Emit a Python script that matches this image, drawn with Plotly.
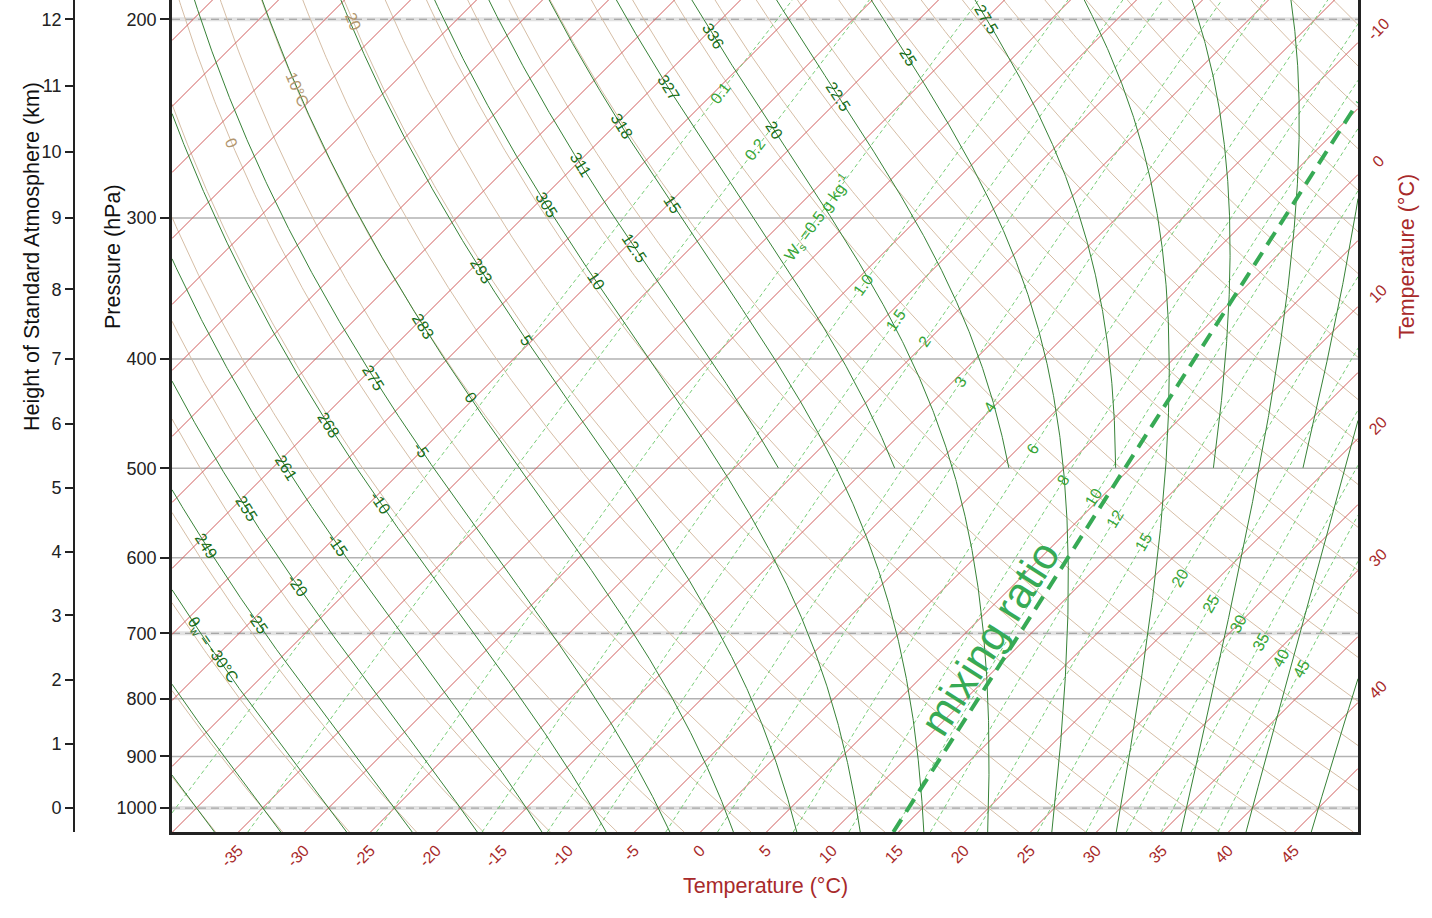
import numpy as np
import plotly.graph_objects as go

# ---------------- data ----------------
isobars_hpa = [200, 300, 400, 500, 600, 700, 800, 900, 1000]
dashed_isobars_hpa = [200, 700, 1000]
isotherms_c = list(range(-105, 55, 5))
dry_adiabats_c = list(range(-45, 150, 5))          # potential temperature, deg C
moist_adiabats_c = list(range(-40, 55, 5))          # wet-bulb potential temp, full depth
moist_upper_c = [12.5, 17.5, 22.5, 27.5, 32.5, 37.5, 42.5, 47.5]  # drawn above 500 hPa only
mixing_ratios_gkg = [0.1, 0.2, 0.5, 1.0, 1.5, 2, 3, 4, 6, 8, 10, 12, 15, 20, 25, 30, 35, 40, 45]
highlight_w_gkg = 10
height_km = list(range(0, 13))
height_p_hpa = [1000, 877.5, 770, 675, 592.5, 520, 456.4, 400, 347, 300, 262, 229, 200]
bottom_ticks_c = list(range(-35, 50, 5))
right_ticks_c = [-10, 0, 10, 20, 30, 40]

# label texts and the pressure level where each label sits
thetaw_label_vals = [-30, -25, -20, -15, -10, -5, 0, 5, 10, 12.5, 15, 20, 22.5, 25, 27.5]
thetaw_label_txt = ["θ<sub>w</sub> = -30°C", "-25", "-20", "-15", "-10", "-5", "0", "5", "10",
                    "12.5", "15", "20", "22.5", "25", "27.5"]
thetaw_label_p = [725, 685, 635, 585, 536, 482, 433, 385, 341, 319, 292, 251, 234, 216, 200]
thetae_label_vals = [-25, -20, -15, -10, -5, 0, 5, 10, 12.5, 15, 17.5, 20]
thetae_label_txt = ["249", "255", "261", "268", "275", "283", "293", "305", "311", "318", "327", "336"]
thetae_label_p = [586, 543, 499, 458, 416, 374, 334, 292, 269, 249, 230, 207]
w_label_txt = ["0.1", "0.2", "W<sub>s</sub> =0.5 g kg<sup>-1</sup>", "1.0", "1.5", "2", "3", "4", "6", "8",
               "10", "12", "15", "20", "25", "30", "35", "40", "45"]
w_label_p = [232.5, 261, 300, 344, 370, 386, 419, 442, 480, 512, 531, 554, 581, 625, 659, 686, 712, 736, 752]
dry_label_vals = [0, 10, 20]
dry_label_txt = ["0", "10°C", "20"]
dry_label_p = [257.5, 231, 201]

# ---------------- geometry ----------------
W, H = 1432, 918
ML, MR, MT, MB = 60, 74, 0, 86
PLOT_L, PLOT_R = 172, 1358
P_BOT, P_TOP = 1050.0, 192.3
plot_h = H - MT - MB
px_per_c = 13.2
X_MIN = -40.0 - 0.5 / px_per_c           # half-pixel offset keeps 45-degree lines off the pixel grid
X_MAX = X_MIN + (PLOT_R - PLOT_L) / px_per_c
px_per_ln = plot_h / np.log(P_BOT / P_TOP)
SKEW = px_per_ln / px_per_c      # 45-degree isotherms
LN_LO, LN_HI = np.log(P_TOP), np.log(P_BOT)

def skew_x(t_c, p):
    return t_c + SKEW * np.log(P_BOT / np.asarray(p, dtype=float))

# thermodynamics
Rd, CP, LV, EPS = 287.04749, 1005.7, 2.501e6, 0.622

def es_water(tc):
    return 6.112 * np.exp(17.67 * tc / (tc + 243.5))

def dewpoint_water(e):
    a = np.log(e / 6.112)
    return 243.5 * a / (17.67 - a)

def dewpoint_ice(e):
    a = np.log(e / 6.112)
    return 272.62 * a / (22.46 - a)

def moist_rhs(p, tk):
    es = es_water(tk - 273.15)
    rs = EPS * es / (p - es)
    return (Rd * tk + LV * rs) / (CP + LV * LV * rs * EPS / (Rd * tk * tk)) / p

def integrate(t0k, plev):
    out = [t0k]
    t = t0k
    for p0, p1 in zip(plev[:-1], plev[1:]):
        h = p1 - p0
        k1 = moist_rhs(p0, t)
        k2 = moist_rhs(p0 + h / 2, t + h / 2 * k1)
        k3 = moist_rhs(p0 + h / 2, t + h / 2 * k2)
        k4 = moist_rhs(p1, t + h * k3)
        t = t + h / 6 * (k1 + 2 * k2 + 2 * k3 + k4)
        out.append(t)
    return np.array(out)

P_UP = np.geomspace(1000, 180, 500)
P_DN = np.geomspace(1000, 1060, 30)

def moist_curve(tw):
    tup = integrate(tw + 273.15, P_UP)
    tdn = integrate(tw + 273.15, P_DN)
    p = np.concatenate([P_DN[::-1], P_UP[1:]])
    t = np.concatenate([tdn[::-1], tup[1:]]) - 273.15
    return p, t

PGRID = np.geomspace(1060, 180, 300)

def dry_curve(theta_c):
    t = (theta_c + 273.15) * (PGRID / 1000.0) ** (Rd / CP) - 273.15
    return PGRID, t

def mix_curve(w_gkg):
    w = w_gkg / 1000.0
    e = w * PGRID / (EPS + w)
    return PGRID, dewpoint_water(e)

def clip_seg(x0, y0, x1, y1):
    dx, dy = x1 - x0, y1 - y0
    t0, t1 = 0.0, 1.0
    for pk, qk in ((-dx, x0 - X_MIN), (dx, X_MAX - x0), (-dy, y0 - LN_LO), (dy, LN_HI - y0)):
        if pk == 0:
            if qk < 0:
                return None
        else:
            r = qk / pk
            if pk < 0:
                t0 = max(t0, r)
            else:
                t1 = min(t1, r)
    if t0 > t1:
        return None
    return (x0 + t0 * dx, y0 + t0 * dy), (x0 + t1 * dx, y0 + t1 * dy)

def clipped_xy(p, t):
    X = skew_x(t, p)
    L = np.log(np.asarray(p, dtype=float))
    xs, ys = [], []
    last = None
    for i in range(len(X) - 1):
        c = clip_seg(float(X[i]), float(L[i]), float(X[i + 1]), float(L[i + 1]))
        if c is None:
            continue
        a, b = c
        if last is None or abs(a[0] - last[0]) > 1e-9 or abs(a[1] - last[1]) > 1e-9:
            if xs:
                xs.append(None); ys.append(None)
            xs.append(a[0]); ys.append(float(np.exp(a[1])))
        xs.append(b[0]); ys.append(float(np.exp(b[1])))
        last = b
    return xs, ys

def on_curve(p_arr, t_arr, p_lab):
    lnp = np.log(p_arr)
    order = np.argsort(lnp)
    X = skew_x(t_arr, p_arr)
    xs = lambda pp: np.interp(np.log(pp), lnp[order], X[order])
    x0 = xs(p_lab)
    x1, x2 = xs(p_lab / 1.03), xs(p_lab * 1.03)
    dx = (x2 - x1) * px_per_c
    dy = (np.log(p_lab * 1.03) - np.log(p_lab / 1.03)) * px_per_ln  # downward
    if dx < 0:
        dx, dy = -dx, -dy
    ang = float(np.degrees(np.arctan2(dy, dx)))
    return float(x0), ang

FONT = "Liberation Sans, Arial, Helvetica, sans-serif"
RED_TXT = "#a82a2a"
fig = go.Figure()

def add_family(curves, color, width, dash=None):
    X, Y = [], []
    for p, t in curves:
        xs, ys = clipped_xy(p, t)
        if xs:
            if X:
                X.append(None); Y.append(None)
            X += xs; Y += ys
    fig.add_trace(go.Scatter(x=X, y=Y, mode="lines", line=dict(color=color, width=width, dash=dash),
                             hoverinfo="skip", showlegend=False, connectgaps=False))

# isobars
for pb in isobars_hpa:
    tt = np.array([X_MIN, X_MAX]) - SKEW * np.log(P_BOT / pb)
    pp = np.array([pb, pb], dtype=float)
    if pb in dashed_isobars_hpa:
        add_family([(pp, tt)], "rgba(190,190,190,0.45)", 4)
        add_family([(pp, tt)], "rgb(150,150,150)", 1, "8px,5px")
    else:
        add_family([(pp, tt)], "rgb(178,178,178)", 1.5)

add_family([dry_curve(th) for th in dry_adiabats_c], "rgb(214,190,166)", 1)
add_family([(np.array([1060.0, 180.0]), np.array([tc, tc], dtype=float)) for tc in isotherms_c],
           "rgb(208,92,92)", 1)
add_family([mix_curve(w) for w in mixing_ratios_gkg], "rgb(120,205,120)", 1, "4px,3px")

moist_cache = {tw: moist_curve(tw) for tw in moist_adiabats_c + moist_upper_c}
mc = [moist_cache[tw] for tw in moist_adiabats_c]
for tw in moist_upper_c:
    p, t = moist_cache[tw]
    m = p <= 500
    mc.append((p[m], t[m]))
add_family(mc, "rgb(55,130,55)", 1)

# highlighted mixing ratio line
wv = highlight_w_gkg / 1000.0
x_a = float(skew_x(dewpoint_water(wv * P_BOT / (EPS + wv)), P_BOT))
x_b = float(skew_x(dewpoint_ice(wv * 200.0 / (EPS + wv)), 200.0))
pp2 = np.array([P_BOT, 200.0])
add_family([(pp2, np.array([x_a, x_b]) - SKEW * np.log(P_BOT / pp2))], "rgb(55,170,85)", 4, "15px,9px")

# invisible trace for the height axis
fig.add_trace(go.Scatter(x=[0], y=[500], yaxis="y2", mode="markers", marker=dict(opacity=0),
                         hoverinfo="skip", showlegend=False))

ann = []
LBL = 16
for val, txt, pl in zip(thetaw_label_vals, thetaw_label_txt, thetaw_label_p):
    p, t = moist_cache[val]
    xv, ang = on_curve(p, t, pl)
    ann.append(dict(x=xv, y=float(np.log10(pl)), text=txt, textangle=ang,
                    font=dict(size=LBL, color="rgb(25,110,25)", family=FONT)))
for val, txt, pl in zip(thetae_label_vals, thetae_label_txt, thetae_label_p):
    p, t = moist_cache[val]
    xv, ang = on_curve(p, t, pl)
    ann.append(dict(x=xv, y=float(np.log10(pl)), text=txt, textangle=ang,
                    font=dict(size=LBL, color="rgb(25,110,25)", family=FONT)))
for wv_, txt, pl in zip(mixing_ratios_gkg, w_label_txt, w_label_p):
    p, t = mix_curve(wv_)
    xv, ang = on_curve(p, t, pl)
    ann.append(dict(x=xv, y=float(np.log10(pl)), text=txt, textangle=ang,
                    font=dict(size=LBL, color="rgb(55,165,55)", family=FONT)))
for val, txt, pl in zip(dry_label_vals, dry_label_txt, dry_label_p):
    p, t = dry_curve(val)
    xv, ang = on_curve(p, t, pl)
    ann.append(dict(x=xv, y=float(np.log10(pl)), text=txt, textangle=ang,
                    font=dict(size=LBL, color="rgb(178,150,110)", family=FONT)))

# big "mixing ratio" text along the highlighted line
p_txt = 707.0
frac = np.log(P_BOT / p_txt) / np.log(P_BOT / 200.0)
x_txt = float(x_a + frac * (x_b - x_a))
ang_txt = -float(np.degrees(np.arctan2(np.log(P_BOT / 200.0) * px_per_ln, (x_b - x_a) * px_per_c)))
ann.append(dict(x=x_txt, y=float(np.log10(p_txt)), text="mixing ratio", textangle=ang_txt, xshift=-27,
                font=dict(size=43, color="rgb(55,170,85)", family=FONT)))

# right-hand temperature labels
for tr in right_ticks_c:
    pr = P_BOT * np.exp(-(X_MAX - tr) / SKEW)
    ann.append(dict(x=X_MAX, y=float(np.log10(pr)), text=str(tr), textangle=-45, xshift=20, yshift=13,
                    font=dict(size=16, color=RED_TXT, family=FONT)))

for a in ann:
    a.update(xref="x", yref="y", showarrow=False, xanchor="center", yanchor="middle")

def paper_ann(xpx, ypx, text, angle, color):
    return dict(x=(xpx - ML) / (W - ML - MR), y=(H - ypx - MB) / (H - MT - MB),
                xref="paper", yref="paper", text=text, textangle=angle, showarrow=False,
                xanchor="center", yanchor="middle", font=dict(size=21.5, color=color, family=FONT))

ann += [
    paper_ann((PLOT_L + PLOT_R) / 2, 886, "Temperature (°C)", 0, RED_TXT),
    paper_ann(1407, 257, "Temperature (°C)", -90, RED_TXT),
    paper_ann(113, 257, "Pressure (hPa)", -90, "#111"),
    paper_ann(32, 257, "Height of Standard Atmosphere (km)", -90, "#111"),
]

dom0 = (PLOT_L - ML) / (W - ML - MR)
ylog_range = [float(np.log10(P_BOT)), float(np.log10(P_TOP))]

fig.update_layout(
    width=W, height=H, margin=dict(l=ML, r=MR, t=MT, b=MB),
    paper_bgcolor="white", plot_bgcolor="white", showlegend=False, hovermode=False,
    font=dict(family=FONT),
    xaxis=dict(domain=[dom0, 1], range=[X_MIN, X_MAX], showgrid=False, zeroline=False,
               showline=True, linecolor="#222", linewidth=2.5,
               tickmode="array", tickvals=bottom_ticks_c, ticktext=[str(v) for v in bottom_ticks_c],
               tickangle=-45, ticks="", tickfont=dict(size=16, color=RED_TXT, family=FONT)),
    yaxis=dict(type="log", range=ylog_range, showgrid=False, zeroline=False,
               showline=True, mirror=True, linecolor="#222", linewidth=2.5,
               tickmode="array", tickvals=isobars_hpa, ticktext=[str(v) for v in isobars_hpa],
               ticks="outside", ticklen=9, tickwidth=1.5, tickcolor="#222",
               tickfont=dict(size=18, color="#222", family=FONT)),
    yaxis2=dict(type="log", range=ylog_range, overlaying="y", anchor="free",
                position=(74 - ML) / (W - ML - MR), side="left", showgrid=False, zeroline=False,
                showline=True, linecolor="#222", linewidth=1.8,
                tickmode="array", tickvals=height_p_hpa, ticktext=[str(v) for v in height_km],
                ticks="outside", ticklen=8, tickwidth=1.5, tickcolor="#222",
                tickfont=dict(size=18, color="#222", family=FONT)),
    annotations=ann,
)

fig.write_html("out.html")
